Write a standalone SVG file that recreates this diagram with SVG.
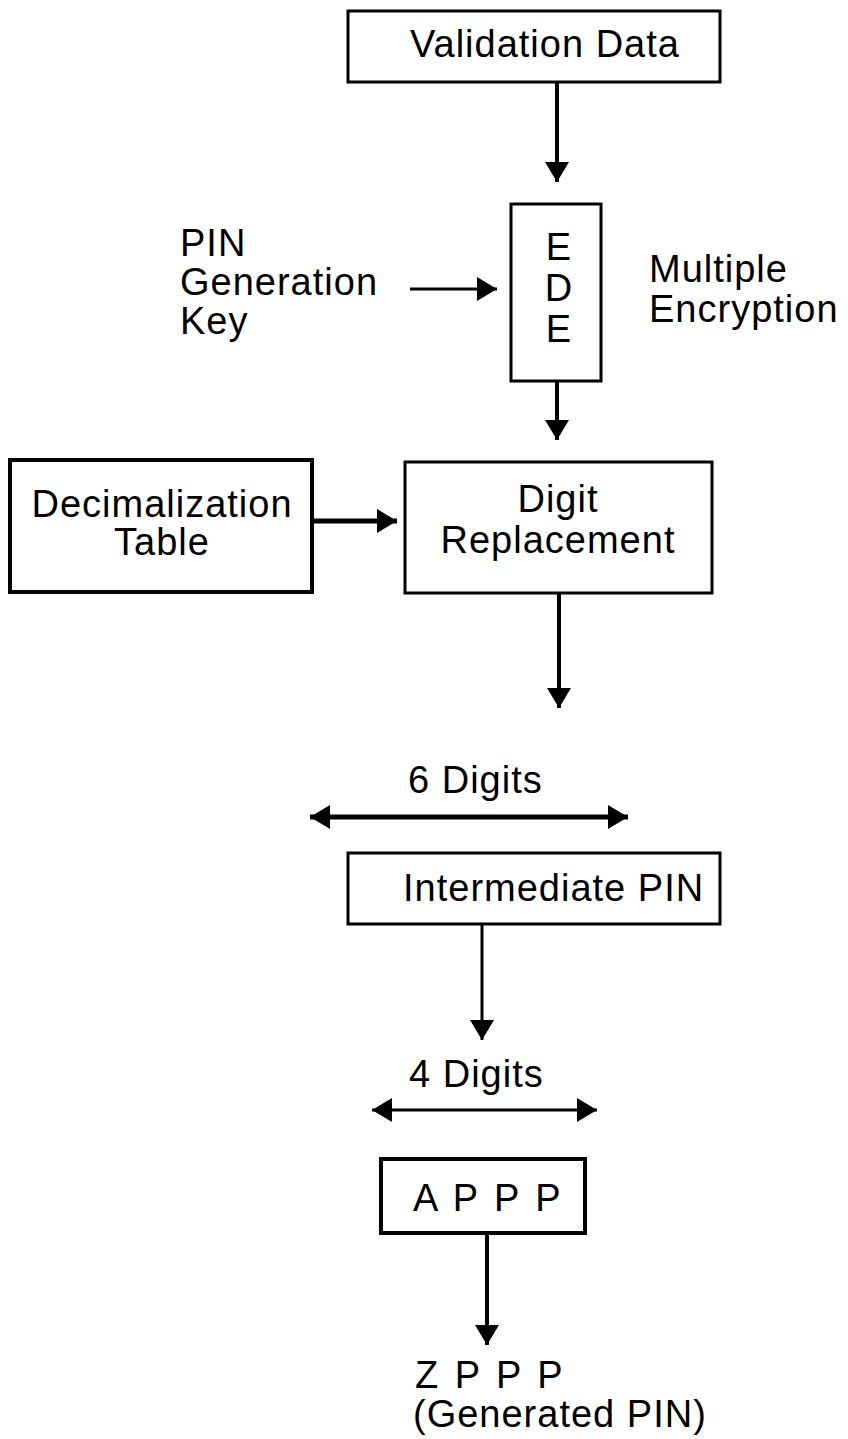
<svg xmlns="http://www.w3.org/2000/svg" width="848" height="1439" viewBox="0 0 848 1439">
<style>
.box{fill:#fff;stroke:#000;stroke-width:3}
.t{font-family:"Liberation Sans",Arial,sans-serif;font-size:38px;letter-spacing:1px;fill:#000}
.w{letter-spacing:3px}
.c{text-anchor:middle}
.ln{stroke:#000;stroke-width:4;fill:none}
</style>
<defs>
<marker id="ah" markerUnits="userSpaceOnUse" viewBox="0 0 20 24" refX="20" refY="12" markerWidth="20" markerHeight="24" orient="auto-start-reverse">
<path d="M0,0 L20,12 L0,24 Z" fill="#000"/>
</marker>
</defs>
<rect width="848" height="1439" fill="#fff"/>
<g id="validation-data">
<rect class="box" x="348" y="11" width="372" height="71"/>
<text class="t" x="410" y="57">Validation Data</text>
</g>
<g id="pin-key">
<text class="t" x="180" y="256">PIN</text>
<text class="t" x="180" y="295">Generation</text>
<text class="t" x="180" y="334">Key</text>
</g>
<g id="ede">
<rect class="box" x="511" y="204" width="90" height="177"/>
<text class="t c" x="559" y="260">E</text>
<text class="t c" x="559" y="301">D</text>
<text class="t c" x="559" y="342">E</text>
</g>
<g id="multiple-encryption">
<text class="t" x="649" y="282">Multiple</text>
<text class="t" x="649" y="322">Encryption</text>
</g>
<g id="decimalization-table">
<rect class="box" x="10" y="460" width="302" height="132" style="stroke-width:4"/>
<text class="t c" x="162" y="517">Decimalization</text>
<text class="t c" x="162" y="555">Table</text>
</g>
<g id="digit-replacement">
<rect class="box" x="405" y="462" width="307" height="131"/>
<text class="t c" x="558" y="512">Digit</text>
<text class="t c" x="558" y="553">Replacement</text>
</g>
<g id="six-digits">
<text class="t" x="408" y="793">6 Digits</text>
</g>
<g id="intermediate-pin">
<rect class="box" x="348" y="853" width="372" height="71"/>
<text class="t" x="403" y="901">Intermediate PIN</text>
</g>
<g id="four-digits">
<text class="t" x="409" y="1087">4 Digits</text>
</g>
<g id="appp">
<rect class="box" x="381" y="1159" width="204" height="74" style="stroke-width:4"/>
<text class="t w" x="413" y="1211">A P P P</text>
</g>
<g id="zppp">
<text class="t w" x="415" y="1388">Z P P P</text>
<text class="t" x="413" y="1427">(Generated PIN)</text>
</g>
<g id="connectors">
<line class="ln" x1="557" y1="82" x2="557" y2="182" marker-end="url(#ah)"/>
<line class="ln" x1="410" y1="289" x2="497" y2="289" style="stroke-width:3" marker-end="url(#ah)"/>
<line class="ln" x1="557" y1="381" x2="557" y2="440" marker-end="url(#ah)"/>
<line class="ln" x1="312" y1="521" x2="397" y2="521" style="stroke-width:5" marker-end="url(#ah)"/>
<line class="ln" x1="559" y1="593" x2="559" y2="708" marker-end="url(#ah)"/>
<line class="ln" x1="310" y1="817" x2="628" y2="817" style="stroke-width:5" marker-start="url(#ah)" marker-end="url(#ah)"/>
<line class="ln" x1="482" y1="924" x2="482" y2="1040" style="stroke-width:3" marker-end="url(#ah)"/>
<line class="ln" x1="372" y1="1110" x2="597" y2="1110" style="stroke-width:3" marker-start="url(#ah)" marker-end="url(#ah)"/>
<line class="ln" x1="487" y1="1233" x2="487" y2="1345" marker-end="url(#ah)"/>
</g>
</svg>
